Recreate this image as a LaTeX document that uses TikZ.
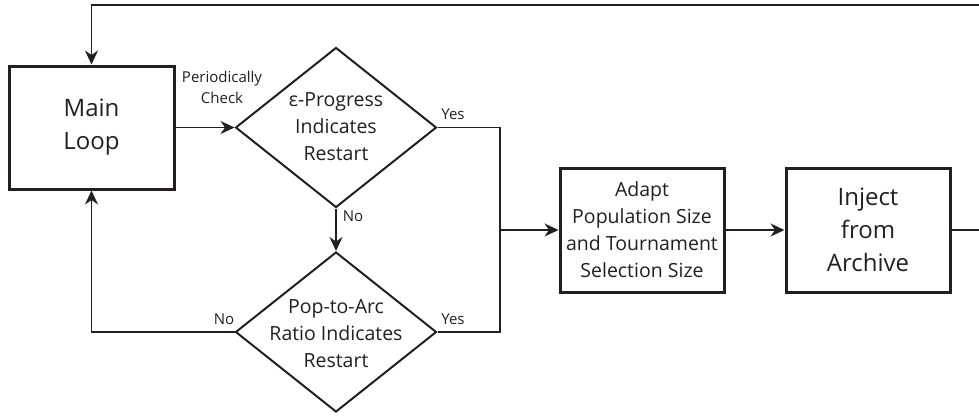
\documentclass[tikz,border=0pt]{standalone}
\usepackage{fontspec}
\setmainfont{Open Sans}
\usetikzlibrary{shapes.geometric,arrows.meta}
\definecolor{ink}{HTML}{231F20}
\begin{document}
\begin{tikzpicture}[x=1pt,y=-1pt,
  every node/.style={text=ink},
  box/.style={draw=ink,line width=3pt,inner sep=0pt,align=center},
  dia/.style={draw=ink,diamond,line width=2pt,inner sep=0pt,minimum width=201pt,minimum height=160pt},
  bigtxt/.style={font=\fontsize{24}{33}\selectfont},
  midtxt/.style={font=\fontsize{19.5}{27}\selectfont,align=center},
  lbl/.style={font=\fontsize{15}{21}\selectfont,align=center,inner sep=0pt},
  conn/.style={draw=ink,line width=1.3pt},
  arr/.style={conn,-{Stealth[length=14pt,width=13pt,inset=4.5pt]}}]
\useasboundingbox (0,0) rectangle (979,416);

\node[box,bigtxt,minimum width=165pt,minimum height=123pt] (main) at (91.5,127.5) {Main\\Loop};
\node[dia] (d1) at (336,127.5) {};
\node[midtxt] (t1) at (336,127) {ε-Progress\\Indicates\\Restart};
\node[dia] (d2) at (336,332) {};
\node[midtxt] (t2) at (336,334) {Pop-to-Arc\\Ratio Indicates\\Restart};
\node[box,midtxt,minimum width=164pt,minimum height=124pt] (adapt) at (642,230) {Adapt\\Population Size\\and Tournament\\Selection Size};
\node[box,bigtxt,minimum width=164pt,minimum height=124pt] (inject) at (868,230) {Inject\\from\\Archive};

\node[lbl] (pc) at (222,87) {Periodically\\Check};
\node[lbl] (y1) at (453,114) {Yes};
\node[lbl] (n1) at (353,216) {No};
\node[lbl] (n2) at (224,319) {No};
\node[lbl] (y2) at (453,319) {Yes};

\coordinate (j) at (500,230);
\coordinate (r) at (981,230);
\coordinate (t) at (981,5);

\draw[arr] (main.east) -- (d1.west);
\draw[arr] (d1.south) -- (d2.north);
\draw[arr] (d2.west) -| (main.south);
\draw[conn] (d1.east) -| (j);
\draw[conn] (d2.east) -| (j);
\draw[arr] (j) -- (adapt.west);
\draw[arr] (adapt.east) -- (inject.west);
\draw[arr] (inject.east) -- (r) -- (t) -| (main.north);
\end{tikzpicture}
\end{document}
